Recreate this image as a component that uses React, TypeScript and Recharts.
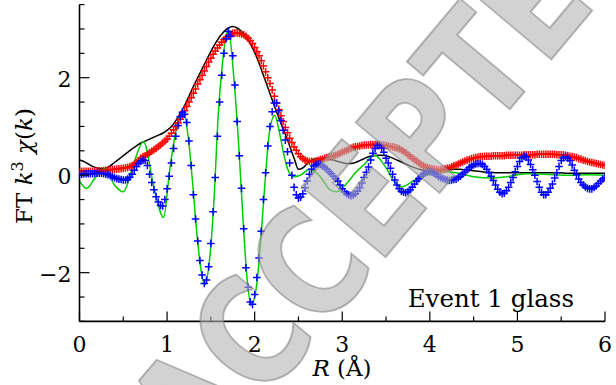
import React from 'react';
import { LineChart, Line, XAxis, YAxis } from 'recharts';

// sampling steps of the R grids (Å)
const DATA_STEP = 0.025;
const FIT_STEP = 0.05;

// |chi(R)| data (red +), R = 0 .. 6 every 0.025
const MAG_DATA = [
  0.08, 0.08, 0.08, 0.08, 0.08, 0.08, 0.08, 0.085, 0.09, 0.09,
  0.09, 0.095, 0.10, 0.105, 0.11, 0.115, 0.12, 0.125, 0.13, 0.135,
  0.14, 0.15, 0.16, 0.175, 0.19, 0.22, 0.26, 0.30, 0.35, 0.38,
  0.40, 0.43, 0.46, 0.49, 0.52, 0.55, 0.59, 0.62, 0.66, 0.70,
  0.74, 0.80, 0.86, 0.93, 1.00, 1.07, 1.15, 1.23, 1.32, 1.41,
  1.50, 1.59, 1.68, 1.77, 1.87, 1.96, 2.05, 2.14, 2.23, 2.32,
  2.40, 2.48, 2.55, 2.61, 2.67, 2.73, 2.78, 2.82, 2.86, 2.89,
  2.91, 2.92, 2.92, 2.91, 2.90, 2.88, 2.85, 2.81, 2.76, 2.70,
  2.62, 2.54, 2.45, 2.35, 2.24, 2.12, 2.00, 1.88, 1.75, 1.62,
  1.48, 1.35, 1.22, 1.10, 0.98, 0.87, 0.76, 0.67, 0.58, 0.51,
  0.44, 0.38, 0.34, 0.31, 0.29, 0.28, 0.28, 0.28, 0.29, 0.30,
  0.32, 0.33, 0.35, 0.36, 0.37, 0.38, 0.40, 0.41, 0.43, 0.45,
  0.47, 0.49, 0.51, 0.53, 0.55, 0.57, 0.58, 0.59, 0.60, 0.61,
  0.62, 0.62, 0.62, 0.63, 0.63, 0.63, 0.63, 0.63, 0.62, 0.62,
  0.61, 0.60, 0.59, 0.58, 0.57, 0.56, 0.54, 0.52, 0.49, 0.46,
  0.42, 0.39, 0.35, 0.32, 0.29, 0.25, 0.22, 0.19, 0.17, 0.15,
  0.14, 0.13, 0.12, 0.11, 0.11, 0.11, 0.12, 0.13, 0.14, 0.15,
  0.17, 0.19, 0.21, 0.23, 0.25, 0.27, 0.29, 0.31, 0.32, 0.34,
  0.35, 0.36, 0.37, 0.38, 0.38, 0.39, 0.39, 0.39, 0.39, 0.40,
  0.40, 0.40, 0.40, 0.40, 0.40, 0.41, 0.41, 0.41, 0.41, 0.41,
  0.41, 0.41, 0.41, 0.42, 0.42, 0.42, 0.42, 0.42, 0.42, 0.43,
  0.43, 0.43, 0.43, 0.43, 0.43, 0.43, 0.43, 0.43, 0.42, 0.42,
  0.42, 0.42, 0.41, 0.40, 0.39, 0.38, 0.37, 0.36, 0.34, 0.33,
  0.31, 0.30, 0.28, 0.27, 0.26, 0.25, 0.24, 0.23, 0.22, 0.21,
  0.20,
];

// Re chi(R) data (blue +), R = 0 .. 6 every 0.025
const RE_DATA = [
  0.02, 0.02, 0.03, 0.03, 0.03, 0.03, 0.03, 0.04, 0.04, 0.04,
  0.04, 0.03, 0.02, 0.01, -0.01, -0.03, -0.05, -0.07, -0.08, -0.09,
  -0.10, -0.10, -0.08, -0.04, 0.02, 0.10, 0.18, 0.24, 0.28, 0.31,
  0.30, 0.20, 0.02, -0.15, -0.30, -0.44, -0.55, -0.62, -0.63, -0.50,
  -0.28, -0.02, 0.25, 0.55, 0.80, 1.02, 1.20, 1.29, 1.25, 1.08,
  0.70, 0.20, -0.40, -0.90, -1.35, -1.75, -2.05, -2.22, -2.15, -1.88,
  -1.40, -0.75, -0.05, 0.80, 1.50, 2.05, 2.50, 2.80, 2.95, 2.85,
  2.45, 1.85, 1.10, 0.40, -0.27, -1.10, -1.90, -2.30, -2.60, -2.65,
  -2.45, -2.10, -1.70, -1.15, -0.50, 0.05, 0.60, 1.00, 1.30, 1.48,
  1.48, 1.32, 1.12, 0.92, 0.72, 0.48, 0.25, 0.00, -0.25, -0.40,
  -0.47, -0.45, -0.38, -0.26, -0.12, 0.02, 0.12, 0.19, 0.22, 0.23,
  0.22, 0.19, 0.16, 0.12, 0.07, 0.03, -0.02, -0.07, -0.12, -0.20,
  -0.28, -0.34, -0.38, -0.41, -0.42, -0.41, -0.38, -0.33, -0.26, -0.16,
  -0.05, 0.06, 0.17, 0.31, 0.45, 0.55, 0.61, 0.61, 0.56, 0.47,
  0.35, 0.25, 0.14, 0.02, -0.10, -0.20, -0.28, -0.33, -0.35, -0.36,
  -0.34, -0.30, -0.25, -0.18, -0.12, -0.07, -0.02, 0.02, 0.05, 0.07,
  0.07, 0.06, 0.04, 0.01, -0.03, -0.05, -0.07, -0.09, -0.10, -0.11,
  -0.10, -0.09, -0.08, -0.05, -0.02, 0.02, 0.06, 0.11, 0.15, 0.18,
  0.21, 0.23, 0.24, 0.24, 0.22, 0.18, 0.12, 0.05, -0.02, -0.11,
  -0.20, -0.29, -0.35, -0.38, -0.37, -0.32, -0.25, -0.15, -0.05, 0.07,
  0.18, 0.28, 0.36, 0.39, 0.38, 0.31, 0.22, 0.11, 0.00, -0.13,
  -0.25, -0.35, -0.40, -0.40, -0.35, -0.27, -0.18, -0.06, 0.05, 0.18,
  0.30, 0.36, 0.38, 0.35, 0.30, 0.21, 0.10, 0.01, -0.08, -0.15,
  -0.20, -0.24, -0.27, -0.28, -0.28, -0.25, -0.22, -0.17, -0.12, -0.08,
  -0.05,
];

// |chi(R)| fit (black line), R = 0 .. 6 every 0.05
const MAG_FIT = [
  0.31, 0.28, 0.23, 0.18, 0.15, 0.13, 0.14, 0.19, 0.26, 0.33,
  0.40, 0.47, 0.54, 0.60, 0.66, 0.70, 0.74, 0.78, 0.82, 0.86,
  0.92, 1.00, 1.12, 1.27, 1.43, 1.62, 1.82, 2.00, 2.18, 2.36,
  2.54, 2.70, 2.84, 2.95, 3.02, 3.05, 3.02, 2.95, 2.84, 2.70,
  2.52, 2.30, 2.05, 1.80, 1.55, 1.30, 1.07, 0.84, 0.60, 0.35,
  0.12, 0.15, 0.24, 0.31, 0.34, 0.35, 0.35, 0.33, 0.31, 0.28,
  0.26, 0.24, 0.24, 0.26, 0.30, 0.34, 0.38, 0.40, 0.41, 0.41,
  0.40, 0.37, 0.33, 0.29, 0.25, 0.21, 0.17, 0.14, 0.11, 0.09,
  0.08, 0.08, 0.09, 0.10, 0.11, 0.12, 0.12, 0.12, 0.11, 0.10,
  0.09, 0.08, 0.07, 0.06, 0.06, 0.05, 0.05, 0.05, 0.05, 0.05,
  0.05, 0.05, 0.05, 0.05, 0.05, 0.05, 0.05, 0.05, 0.05, 0.05,
  0.05, 0.04, 0.04, 0.04, 0.04, 0.04, 0.04, 0.04, 0.04, 0.04,
  0.04,
];

// Re chi(R) fit (green line): R positions and values
const RE_FIT_R = [
  0.00, 0.08, 0.18, 0.29, 0.40, 0.50, 0.62, 0.73, 0.85, 0.96,
  1.03, 1.10, 1.18, 1.24, 1.29, 1.34, 1.38, 1.43, 1.49, 1.54,
  1.58, 1.63, 1.70, 1.76, 1.82, 1.87, 1.91, 1.96, 2.02, 2.07,
  2.12, 2.17, 2.23, 2.28, 2.33, 2.38, 2.44, 2.52, 2.63, 2.75,
  2.86, 2.94, 3.05, 3.15, 3.25, 3.37, 3.50, 3.60, 3.68, 3.80,
  3.94, 4.05, 4.17, 4.30, 4.50, 4.70, 4.88, 5.10, 5.30, 5.60,
  5.80, 6.00,
];
const RE_FIT = [
  -0.12, -0.27, -0.05, 0.14, -0.20, -0.34, 0.25, 0.69, -0.25, -0.87,
  0.11, 0.90, 1.30, 0.80, -0.13, -1.19, -1.85, -2.25, -1.64, -0.37,
  1.13, 2.25, 3.00, 2.05, 0.55, -0.99, -2.05, -2.66, -2.29, -1.32,
  -0.10, 0.90, 1.23, 0.90, 0.45, 0.11, -0.03, 0.00, 0.12, -0.03,
  -0.30, -0.34, -0.17, 0.05, 0.22, 0.41, 0.15, -0.15, -0.24, -0.13,
  -0.01, 0.04, 0.07, 0.05, -0.03, -0.06, -0.03, 0.03, 0.02, 0.00,
  0.01, 0.00,
];

const X_TICKS = [0, 0.5, 1, 1.5, 2, 2.5, 3, 3.5, 4, 4.5, 5, 5.5, 6];
const X_LABELED = [0, 1, 2, 3, 4, 5, 6];
const Y_TICKS = [-3, -2.5, -2, -1.5, -1, -0.5, 0, 0.5, 1, 1.5, 2, 2.5, 3, 3.5];
const Y_LABELED = [-2, 0, 2];

const ANNOTATION = 'Event 1 glass';
const WATERMARK = 'ACCEPTED';

const magData = MAG_DATA.map((v, i) => ({ r: i * DATA_STEP, v }));
const reData = RE_DATA.map((v, i) => ({ r: i * DATA_STEP, v }));
const magFit = MAG_FIT.map((v, i) => ({ r: i * FIT_STEP, v }));
const reFit = RE_FIT.map((v, i) => ({ r: RE_FIT_R[i], v }));

const SERIF = 'DejaVu Serif';
const MAJ = 10;
const MIN = 5;

const fmt = (v: number) => (v < 0 ? '\u2212' + Math.abs(v) : String(v));

function plusDot(color: string) {
  return (p: any) => {
    const { cx, cy, index } = p;
    if (cx == null || cy == null) return <g key={`e${color}${index}`} />;
    return (
      <path
        key={`${color}${index}`}
        d={`M${cx - 3.8},${cy}H${cx + 3.8}M${cx},${cy - 3.8}V${cy + 3.8}`}
        stroke={color}
        strokeWidth={1.5}
        fill="none"
      />
    );
  };
}

const BottomTick = (p: any) => {
  const { x, y, payload } = p;
  const major = X_LABELED.includes(payload.value);
  return (
    <g>
      <line x1={x} x2={x} y1={y} y2={y - (major ? MAJ : MIN)} stroke="#000" strokeWidth={1.2} />
      {major && (
        <text x={x} y={y + 31} textAnchor="middle" fontSize={22} fontFamily={SERIF} fill="#000">
          {fmt(payload.value)}
        </text>
      )}
    </g>
  );
};

const TopTick = (p: any) => {
  const { x, y, payload } = p;
  const major = X_LABELED.includes(payload.value);
  return <line x1={x} x2={x} y1={y} y2={y + (major ? MAJ : MIN)} stroke="#000" strokeWidth={1.2} />;
};

const LeftTick = (p: any) => {
  const { x, y, payload } = p;
  const major = Y_LABELED.includes(payload.value);
  return (
    <g>
      <line x1={x} x2={x + (major ? MAJ : MIN)} y1={y} y2={y} stroke="#000" strokeWidth={1.2} />
      {major && (
        <text x={x - 8} y={y + 9} textAnchor="end" fontSize={22} fontFamily={SERIF} fill="#000">
          {fmt(payload.value)}
        </text>
      )}
    </g>
  );
};

const RightTick = (p: any) => {
  const { x, y, payload } = p;
  const major = Y_LABELED.includes(payload.value);
  return <line x1={x} x2={x - (major ? MAJ : MIN)} y1={y} y2={y} stroke="#000" strokeWidth={1.2} />;
};

const axisLine = { stroke: '#000', strokeWidth: 1.6 };

export default function App() {
  return (
    <div style={{ position: 'absolute', left: 0, top: 0, width: 616, height: 385, background: '#fff' }}>
      <LineChart width={616} height={385} margin={{ top: 4.6, right: 11, bottom: 0, left: 0.5 }}>
        <XAxis
          xAxisId="b"
          type="number"
          dataKey="r"
          domain={[0, 6]}
          ticks={X_TICKS}
          interval={0}
          tickSize={0}
          tickMargin={0}
          tickLine={false}
          tick={BottomTick}
          height={63.6}
          axisLine={axisLine}
          allowDataOverflow
        />
        <XAxis
          xAxisId="t"
          orientation="top"
          type="number"
          dataKey="r"
          domain={[0, 6]}
          ticks={X_TICKS}
          interval={0}
          tickSize={0}
          tickMargin={0}
          tickLine={false}
          tick={TopTick}
          height={0}
          axisLine={axisLine}
          allowDataOverflow
        />
        <YAxis
          yAxisId="l"
          type="number"
          domain={[-3, 3.5]}
          ticks={Y_TICKS}
          interval={0}
          tickSize={0}
          tickMargin={0}
          tickLine={false}
          tick={LeftTick}
          width={79}
          axisLine={axisLine}
          allowDataOverflow
        />
        <YAxis
          yAxisId="r"
          orientation="right"
          type="number"
          domain={[-3, 3.5]}
          ticks={Y_TICKS}
          interval={0}
          tickSize={0}
          tickMargin={0}
          tickLine={false}
          tick={RightTick}
          width={0}
          axisLine={axisLine}
          allowDataOverflow
        />
        <Line
          xAxisId="b"
          yAxisId="l"
          data={magData}
          dataKey="v"
          stroke="none"
          dot={plusDot('#ff0000')}
          activeDot={false}
          isAnimationActive={false}
        />
        <Line
          xAxisId="b"
          yAxisId="l"
          data={magFit}
          dataKey="v"
          type="monotone"
          stroke="#000000"
          strokeWidth={1.5}
          dot={false}
          activeDot={false}
          isAnimationActive={false}
        />
        <Line
          xAxisId="b"
          yAxisId="l"
          data={reData}
          dataKey="v"
          stroke="none"
          dot={plusDot('#0000ff')}
          activeDot={false}
          isAnimationActive={false}
        />
        <Line
          xAxisId="b"
          yAxisId="l"
          data={reFit}
          dataKey="v"
          type="monotone"
          stroke="#00cc00"
          strokeWidth={1.5}
          dot={false}
          activeDot={false}
          isAnimationActive={false}
        />
      </LineChart>
      <svg
        width={616}
        height={385}
        style={{ position: 'absolute', left: 0, top: 0, pointerEvents: 'none' }}
      >
        <text
          transform="translate(32,166) rotate(-90)"
          textAnchor="middle"
          fontFamily={SERIF}
          fontSize={23}
          fill="#000"
        >
          FT <tspan fontStyle="italic">k</tspan>
          <tspan fontSize={16} dy={-9}>3</tspan>
          <tspan dy={9}> </tspan>
          <tspan fontStyle="italic">χ</tspan>(<tspan fontStyle="italic">k</tspan>)
        </text>
        <text x={342} y={376} textAnchor="middle" fontFamily={SERIF} fontSize={23} fill="#000">
          <tspan fontStyle="italic">R</tspan> (Å)
        </text>
        <text x={574} y={307} textAnchor="end" fontFamily={SERIF} fontSize={24.5} fill="#000">
          {ANNOTATION}
        </text>
        <text
          transform="translate(201,477) rotate(-50) scale(0.82,1)"
          fontFamily="DejaVu Sans"
          fontWeight="bold"
          fontSize={150}
          fill="#b4b4b4"
          fillOpacity={0.6}
          stroke="#7e7e7e"
          strokeOpacity={0.55}
          strokeWidth={2}
        >
          {WATERMARK}
        </text>
      </svg>
    </div>
  );
}
